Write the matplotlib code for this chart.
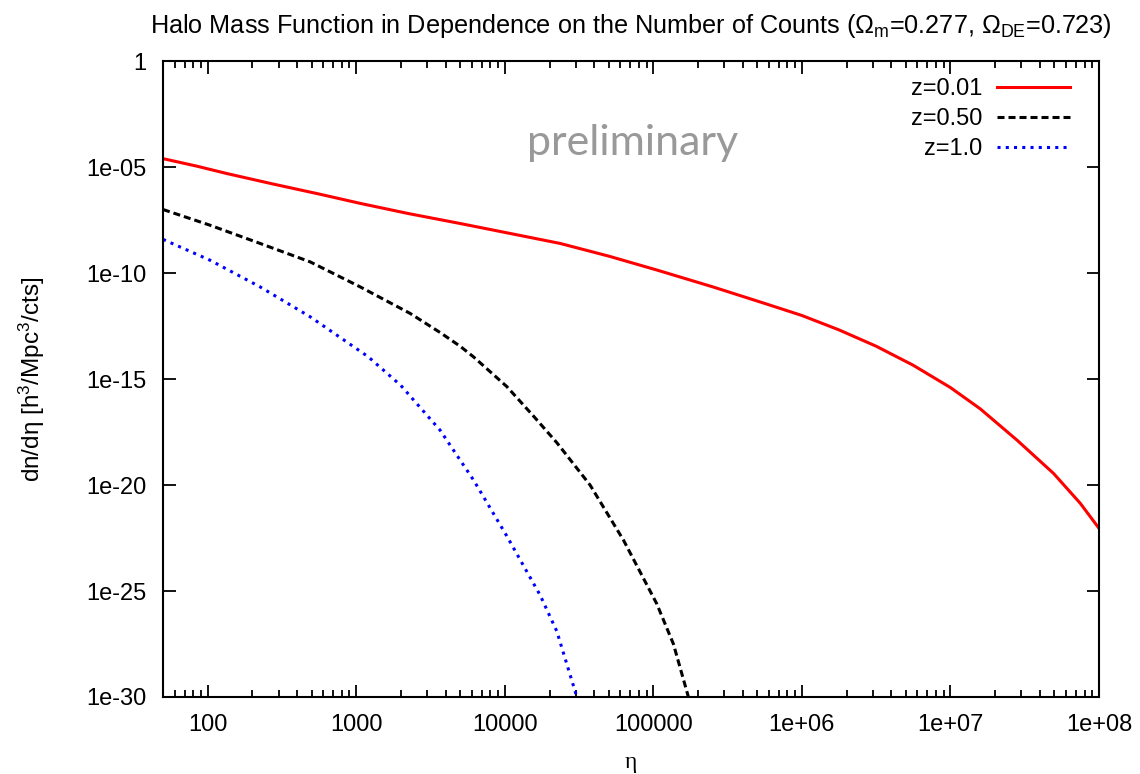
import matplotlib
matplotlib.use("Agg")
import matplotlib.pyplot as plt
from matplotlib.ticker import FixedLocator, FixedFormatter, NullLocator


# values (eta, dn/deta)
ETA_Z001 = [50, 84, 134, 277, 562, 1062, 2239, 5000, 10000, 23550, 50120,
            1.062e5, 2.512e5, 5.61e5, 1e6, 1.778e6, 3.162e6, 5.623e6, 1e7,
            1.585e7, 2.805e7, 4.943e7, 7.482e7, 1e8]
DN_Z001 = [2.51e-5, 1.12e-5, 5.01e-6, 1.58e-6, 5.37e-7, 1.95e-7, 6.46e-8,
           2.19e-8, 8.32e-9, 2.51e-9, 6.31e-10, 1.38e-10, 2.24e-11, 3.72e-12,
           1.0e-12, 2.09e-13, 3.55e-14, 4.47e-15, 3.98e-16, 3.98e-17,
           1.32e-18, 3.55e-20, 1.38e-21, 9.12e-23]

ETA_Z050 = [50, 103.5, 225, 489, 1062, 2301, 3664, 5000, 6152, 10300, 15850,
            22390, 37500, 62950, 105400, 136500, 172200]
DN_Z050 = [1.0e-7, 1.82e-8, 2.51e-9, 3.39e-10, 2.24e-11, 1.26e-12, 1.58e-13,
           3.55e-14, 1.12e-14, 4.47e-16, 1.58e-17, 1.0e-18, 1.0e-20, 2.51e-23,
           2.51e-26, 3.16e-28, 1e-30]

ETA_Z100 = [50, 103.5, 225, 489, 1205, 1995, 3664, 6152, 10300, 17300, 22390,
            30550]
DN_Z100 = [3.89e-9, 4.07e-10, 2.24e-11, 8.71e-13, 1.12e-14, 5.01e-16, 3.89e-18,
           1.74e-20, 3.98e-23, 6.31e-26, 1.26e-27, 1e-30]

LABELS = ["z=0.01", "z=0.50", "z=1.0"]

X_TICKS = [100, 1000, 10000, 100000, 1e6, 1e7, 1e8]
X_TICK_LABELS = ["100", "1000", "10000", "100000", "1e+06", "1e+07", "1e+08"]
Y_TICKS = [1e-30, 1e-25, 1e-20, 1e-15, 1e-10, 1e-05, 1]
Y_TICK_LABELS = ["1e-30", "1e-25", "1e-20", "1e-15", "1e-10", "1e-05", "1"]
X_MINOR = [m * 10 ** e for e in range(1, 8) for m in range(2, 10)]


plt.rcParams["font.family"] = ["Liberation Sans", "DejaVu Sans"]
plt.rcParams["mathtext.default"] = "regular"

fig = plt.figure(figsize=(11.4, 7.74), dpi=100)
ax = fig.add_axes([0.143, 0.0995, 0.821, 0.8215])

ax.plot(ETA_Z001, DN_Z001, color="#ff0000", lw=2.2, label=LABELS[0])
ax.plot(ETA_Z050, DN_Z050, color="black", lw=2.2, linestyle=(0, (2.3, 1.3)),
        label=LABELS[1])
ax.plot(ETA_Z100, DN_Z100, color="#0000ff", lw=2.2, linestyle=(0, (1, 1.7)),
        label=LABELS[2])

ax.set_xscale("log")
ax.set_yscale("log")
ax.set_xlim(50, 1e8)
ax.set_ylim(1e-30, 1)

ax.xaxis.set_major_locator(FixedLocator(X_TICKS))
ax.xaxis.set_major_formatter(FixedFormatter(X_TICK_LABELS))
ax.xaxis.set_minor_locator(FixedLocator(X_MINOR))
ax.yaxis.set_major_locator(FixedLocator(Y_TICKS))
ax.yaxis.set_major_formatter(FixedFormatter(Y_TICK_LABELS))
ax.yaxis.set_minor_locator(NullLocator())

ax.tick_params(which="both", direction="in", top=True, right=True,
               labelsize=17, width=1.3)
ax.tick_params(which="major", length=9, pad=12)
ax.tick_params(which="minor", length=5)
for s in ax.spines.values():
    s.set_linewidth(1.5)

ax.set_xlabel("η", fontsize=17, family=["Liberation Serif", "DejaVu Serif"],
              labelpad=12)
ax.set_ylabel("dn/dη [h$^3$/Mpc$^3$/cts]", fontsize=17.5, labelpad=28)
ax.set_title("Halo Mass Function in Dependence on the Number of Counts "
             "(Ω$_{m}$=0.277, Ω$_{DE}$=0.723)", fontsize=18.2, pad=20)

ax.text(0.502, 0.852, "preliminary", transform=ax.transAxes, ha="center",
        va="baseline", fontsize=31, color="#999999", family=["Lato"])

ax.legend(loc="upper right", bbox_to_anchor=(0.979, 0.9887), borderaxespad=0,
          frameon=False, markerfirst=False, fontsize=17,
          handlelength=3.1, handletextpad=0.6, labelspacing=0.35)

fig.savefig("out.png", dpi=100)
